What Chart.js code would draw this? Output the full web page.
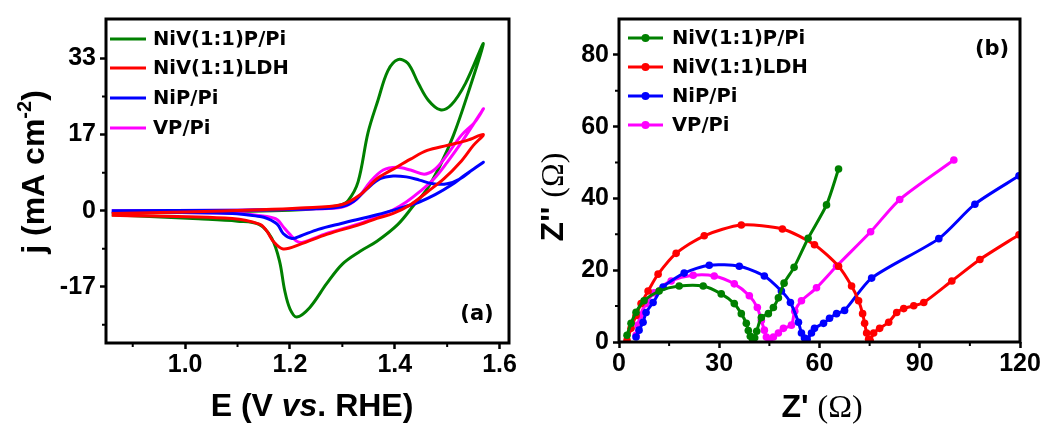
<!DOCTYPE html>
<html>
<head>
<meta charset="utf-8">
<script src="https://cdn.jsdelivr.net/npm/chart.js@4.4.1/dist/chart.umd.min.js"></script>
<style>
  html, body { margin: 0; padding: 0; background: #fff; }
  #wrap { position: relative; width: 1048px; height: 424px; overflow: hidden; }
  #cvA { position: absolute; left: 0; top: 0; }
  #cvB { position: absolute; left: 520px; top: 0; }
</style>
</head>
<body>
<div id="wrap">
  <canvas id="cvA" width="520" height="424"></canvas>
  <canvas id="cvB" width="528" height="424"></canvas>
</div>
<script>
// ---- panel (a): CV curves, E (V vs RHE) / j (mA cm-2) ----
const seriesNames = ['NiV(1:1)P/Pi', 'NiV(1:1)LDH', 'NiP/Pi', 'VP/Pi'];
const seriesColors = ['#008000', '#ff0000', '#0000ff', '#ff00ff'];

const cvGreenE = [0.86, 1.0, 1.1, 1.2, 1.26, 1.295, 1.311, 1.33, 1.349, 1.368, 1.387, 1.406, 1.425, 1.445, 1.464, 1.487, 1.508, 1.535, 1.569,
                  1.538, 1.512, 1.487, 1.462, 1.437, 1.406, 1.366, 1.334, 1.30, 1.27, 1.238, 1.213, 1.200, 1.19, 1.18, 1.165, 1.141, 1.1, 1.025, 0.86];
const cvGreenJ = [-0.5, -0.4, -0.2, 0.1, 0.6, 1.2, 2.2, 6.3, 17.1, 24.2, 30.7, 33.1, 32.3, 27.9, 24.2, 22.1, 23.2, 27.9, 36.6,
                  25.1, 16.5, 10.0, 4.8, 1.3, -3.0, -6.7, -8.9, -11.7, -16.0, -21.2, -23.3, -21.5, -17.5, -11.0, -6.0, -3.0, -2.3, -1.8, -0.9];

const cvRedE = [0.86, 1.0, 1.143, 1.22, 1.298, 1.334, 1.366, 1.397, 1.43, 1.462, 1.5, 1.538, 1.569,
                1.55, 1.525, 1.494, 1.462, 1.43, 1.397, 1.366, 1.334, 1.27, 1.219, 1.187, 1.168, 1.156, 1.143, 1.09, 0.86];
const cvRedJ = [-0.6, -0.3, 0.2, 0.6, 1.3, 3.5, 7.0, 9.1, 11.3, 13.2, 14.3, 15.4, 16.7,
                14.3, 10.6, 7.0, 4.1, 1.3, -0.6, -1.7, -3.0, -5.2, -7.4, -8.4, -6.7, -4.5, -3.0, -1.7, -1.0];

const cvBlueE = [0.86, 1.1, 1.25, 1.3, 1.321, 1.347, 1.372, 1.397, 1.422, 1.447, 1.473, 1.5, 1.525, 1.55, 1.569,
                 1.534, 1.508, 1.477, 1.447, 1.406, 1.366, 1.298, 1.254, 1.219, 1.204, 1.187, 1.176, 1.156, 1.143, 1.09, 0.86];
const cvBlueJ = [0.0, 0.1, 0.4, 0.9, 2.0, 4.8, 7.0, 7.6, 7.4, 6.7, 5.9, 5.9, 7.0, 9.1, 10.6,
                 7.8, 5.6, 3.5, 1.9, 0.4, -0.9, -2.8, -4.1, -5.6, -6.1, -5.0, -3.0, -1.7, -1.3, -0.6, -0.3];

const cvPinkE = [0.86, 1.1, 1.25, 1.3, 1.328, 1.353, 1.378, 1.404, 1.43, 1.456, 1.475, 1.494, 1.527, 1.552, 1.569,
                 1.527, 1.5, 1.475, 1.447, 1.422, 1.397, 1.366, 1.334, 1.27, 1.225, 1.213, 1.2, 1.187, 1.176, 1.156, 1.1, 0.86];
const cvPinkJ = [0.0, 0.1, 0.4, 0.8, 2.6, 6.3, 8.9, 9.5, 8.9, 8.0, 8.9, 11.3, 16.5, 19.3, 22.3,
                 14.9, 10.6, 7.0, 4.1, 1.9, 0.2, -1.3, -2.8, -5.0, -6.9, -6.7, -5.2, -3.5, -2.0, -1.3, -0.6, -0.3];

const cvTicksE = [1.0, 1.2, 1.4, 1.6];
const cvMinorE = [0.9, 1.1, 1.3, 1.5];
const cvTicksJ = [-50 / 3, 0, 50 / 3, 100 / 3];
const cvMinorJ = [-25, -25 / 3, 25 / 3, 25];

// ---- panel (b): Nyquist plots, Z' / Z'' (Ohm) ----
const eisGreenRe = [2.4, 3.6, 5.1, 7.5, 12, 18, 25.2, 30.6, 34.5, 36.6, 38.1, 38.7, 39.3, 40.0, 40.6, 41.2, 42.6, 44.7, 46.2, 47.7, 49.4, 52.4, 56.6, 62.1, 65.7];
const eisGreenIm = [1.9, 5.2, 8.3, 11.5, 14.2, 15.6, 15.6, 13.4, 10.7, 7.9, 5.2, 3.2, 1.6, 0.6, 1.2, 3.0, 6.8, 7.9, 9.6, 12.3, 16.4, 20.8, 28.9, 38.2, 48.2];

const eisRedRe = [2.4, 3.6, 5.1, 6.6, 8.7, 11.7, 17.1, 25.5, 36.6, 48.9, 58.5, 65.7, 69.6, 71.7, 72.9, 73.5, 74.1, 74.7, 75.2,
                  76.2, 78, 80.7, 83.1, 85.2, 88.2, 91.2, 99.6, 108, 119.7];
const eisRedIm = [0.5, 3.8, 7.4, 10.7, 14.2, 18.9, 24.7, 29.6, 32.6, 31.5, 27.1, 21.1, 15.6, 11.5, 7.9, 5.2, 2.5, 0.8, 0.3,
                  2.5, 3.8, 5.5, 8.2, 9.3, 10.1, 11.0, 17.0, 23.0, 29.9];

const eisBlueRe = [5.1, 6.0, 7.2, 8.1, 10.2, 13.2, 19.5, 27, 36, 43.5, 48.6, 51.3, 53.7, 54.6, 55.5, 56.3,
                   57.6, 58.5, 61.2, 63, 65.1, 67.5, 75.6, 95.7, 106.5, 119.7];
const eisBlueIm = [1.4, 3.3, 5.5, 8.2, 11.0, 15.3, 19.2, 21.4, 21.1, 18.4, 14.2, 11.0, 5.5, 2.5, 1.1, 0.8,
                   2.5, 3.8, 5.2, 6.6, 7.9, 8.8, 17.8, 28.8, 38.4, 46.3];

const eisPinkRe = [5.1, 5.7, 6.3, 8.1, 10.5, 15.6, 22.2, 28.5, 34.5, 39, 41.4, 42.6, 43.5, 44.1, 45,
                   46.2, 47.7, 49.2, 51.6, 52.6, 54.6, 59.1, 65.1, 75.3, 84, 100.2];
const eisPinkIm = [1.9, 4.7, 7.4, 10.7, 13.7, 17.0, 18.6, 18.4, 16.2, 12.9, 9.6, 6.0, 3.3, 1.4, 0.5,
                   1.4, 2.5, 3.8, 4.7, 8.6, 11.5, 15.1, 21.1, 30.7, 39.7, 50.7];

const eisTicksX = [0, 30, 60, 90, 120];
const eisMinorX = [15, 45, 75, 105];
const eisTicksY = [0, 20, 40, 60, 80];
const eisMinorY = [10, 30, 50, 70];

const SANS = '"Liberation Sans", Arial, sans-serif';
const SERIF = '"Liberation Serif", "Times New Roman", serif';
const LEG = '"DejaVu Sans", Verdana, sans-serif';

function pts(xs, ys) {
  return xs.map((x, i) => ({ x, y: ys[i] }));
}

// draws a row of differently styled text pieces centred on (0,0) in the current transform
function drawRuns(ctx, runs) {
  let total = 0;
  runs.forEach(r => { ctx.font = r.font; r.w = ctx.measureText(r.t).width; total += r.w; });
  let x = -total / 2;
  ctx.textAlign = 'left';
  ctx.textBaseline = 'alphabetic';
  runs.forEach(r => {
    ctx.font = r.font;
    ctx.fillText(r.t, x, r.dy || 0);
    x += r.w;
  });
}

// frame, minor ticks, axis titles, legend and panel letter
const decor = {
  id: 'decor',
  afterDraw(chart, args, opts) {
    const { ctx, chartArea: a, scales } = chart;
    ctx.save();
    ctx.strokeStyle = '#000';
    ctx.lineWidth = 3;
    ctx.strokeRect(a.left, a.top, a.right - a.left, a.bottom - a.top);

    ctx.lineWidth = 2;
    ctx.beginPath();
    opts.minorX.forEach(v => {
      const px = scales.x.getPixelForValue(v);
      ctx.moveTo(px, a.bottom); ctx.lineTo(px, a.bottom + 4);
    });
    opts.minorY.forEach(v => {
      const py = scales.y.getPixelForValue(v);
      ctx.moveTo(a.left, py); ctx.lineTo(a.left - 4, py);
    });
    ctx.stroke();

    ctx.fillStyle = '#000';
    ctx.save();
    ctx.translate(opts.xTitle.x, opts.xTitle.y);
    drawRuns(ctx, opts.xTitle.runs);
    ctx.restore();
    ctx.save();
    ctx.translate(opts.yTitle.x, opts.yTitle.y);
    ctx.rotate(-Math.PI / 2);
    drawRuns(ctx, opts.yTitle.runs);
    ctx.restore();

    // legend inside the plot
    const lg = opts.legend;
    chart.data.datasets.forEach((ds, i) => {
      const y = lg.rows[i];
      ctx.strokeStyle = ds.borderColor;
      ctx.lineWidth = 3.2;
      ctx.beginPath();
      ctx.moveTo(lg.x0, y); ctx.lineTo(lg.x1, y);
      ctx.stroke();
      if (lg.dot) {
        ctx.fillStyle = ds.borderColor;
        ctx.beginPath();
        ctx.arc((lg.x0 + lg.x1) / 2, y, 4, 0, Math.PI * 2);
        ctx.fill();
      }
      ctx.fillStyle = '#000';
      ctx.font = 'bold 19.5px ' + LEG;
      ctx.textAlign = 'left';
      ctx.textBaseline = 'middle';
      ctx.fillText(ds.label, lg.tx, y + 1);
    });

    ctx.font = 'bold 21px ' + LEG;
    ctx.textAlign = 'center';
    ctx.textBaseline = 'middle';
    ctx.fillStyle = '#000';
    ctx.fillText(opts.tag.t, opts.tag.x, opts.tag.y);
    ctx.restore();
  }
};

function axis(min, max, ticks, fmt, side, size) {
  return {
    type: 'linear',
    min, max,
    afterBuildTicks: s => { s.ticks = ticks.map(v => ({ value: v })); },
    afterFit: s => { if (side === 'x') s.height = size; else s.width = size; },
    grid: { drawOnChartArea: false, drawTicks: true, tickLength: 6, tickWidth: 2.5, tickColor: '#000' },
    border: { display: false },
    ticks: {
      autoSkip: false, maxRotation: 0, color: '#000',
      padding: side === 'x' ? 1 : 4,
      font: { family: SANS, size: 25, weight: 'bold' },
      callback: fmt
    }
  };
}

const baseOpts = {
  responsive: false,
  animation: false,
  events: [],
  plugins: { legend: { display: false }, tooltip: { enabled: false } }
};

window.addEventListener('DOMContentLoaded', () => {
  const cvSets = [[cvGreenE, cvGreenJ], [cvRedE, cvRedJ], [cvBlueE, cvBlueJ], [cvPinkE, cvPinkJ]];
  new Chart(document.getElementById('cvA').getContext('2d'), {
    type: 'scatter',
    data: {
      datasets: cvSets.map((s, i) => ({
        label: seriesNames[i],
        data: pts(s[0], s[1]),
        showLine: true,
        borderColor: seriesColors[i],
        borderWidth: 3,
        pointRadius: 0,
        tension: 0.35,
        order: i === 0 ? 4 : i
      }))
    },
    options: {
      ...baseOpts,
      layout: { padding: { top: 15, right: 11, left: 0, bottom: 0 } },
      scales: {
        x: axis(0.849, 1.618, cvTicksE, v => v.toFixed(1), 'x', 81),
        y: axis(-29, 42, cvTicksJ, v => String(Math.round(v)), 'y', 106)
      },
      plugins: {
        ...baseOpts.plugins,
        decor: {
          minorX: cvMinorE, minorY: cvMinorJ,
          xTitle: { x: 312, y: 416, runs: [
            { t: 'E (V ', font: 'bold 32px ' + SANS },
            { t: 'vs', font: 'italic bold 32px ' + SANS },
            { t: '. RHE)', font: 'bold 32px ' + SANS }] },
          yTitle: { x: 44, y: 172, runs: [
            { t: 'j (mA cm', font: 'bold 32px ' + SANS },
            { t: '-2', font: 'bold 20px ' + SANS, dy: -13 },
            { t: ')', font: 'bold 32px ' + SANS }] },
          legend: { rows: [39, 68, 98, 128], x0: 110, x1: 146, tx: 153, dot: false },
          tag: { t: '(a)', x: 477, y: 315 }
        }
      }
    },
    plugins: [decor]
  });

  const eisSets = [[eisGreenRe, eisGreenIm], [eisRedRe, eisRedIm], [eisBlueRe, eisBlueIm], [eisPinkRe, eisPinkIm]];
  new Chart(document.getElementById('cvB').getContext('2d'), {
    type: 'scatter',
    data: {
      datasets: eisSets.map((s, i) => ({
        label: seriesNames[i],
        data: pts(s[0], s[1]),
        showLine: true,
        borderColor: seriesColors[i],
        backgroundColor: seriesColors[i],
        borderWidth: 3,
        pointRadius: 3.8,
        pointBorderWidth: 0,
        tension: 0.25
      }))
    },
    options: {
      ...baseOpts,
      layout: { padding: { top: 14, right: 28, left: 0, bottom: 0 } },
      scales: {
        x: axis(0, 120, eisTicksX, v => String(v), 'x', 82),
        y: axis(0, 90, eisTicksY, v => String(v), 'y', 99)
      },
      plugins: {
        ...baseOpts.plugins,
        decor: {
          minorX: eisMinorX, minorY: eisMinorY,
          xTitle: { x: 302, y: 417, runs: [
            { t: "Z' ", font: 'bold 32px ' + SANS },
            { t: '(\u03A9)', font: '32px ' + SERIF }] },
          yTitle: { x: 43, y: 197, runs: [
            { t: "Z'' ", font: 'bold 32px ' + SANS },
            { t: '(\u03A9)', font: '32px ' + SERIF }] },
          legend: { rows: [38, 67, 96, 125], x0: 108, x1: 143, tx: 152, dot: true },
          tag: { t: '(b)', x: 472, y: 50 }
        }
      }
    },
    plugins: [decor]
  });
});
</script>
</body>
</html>
